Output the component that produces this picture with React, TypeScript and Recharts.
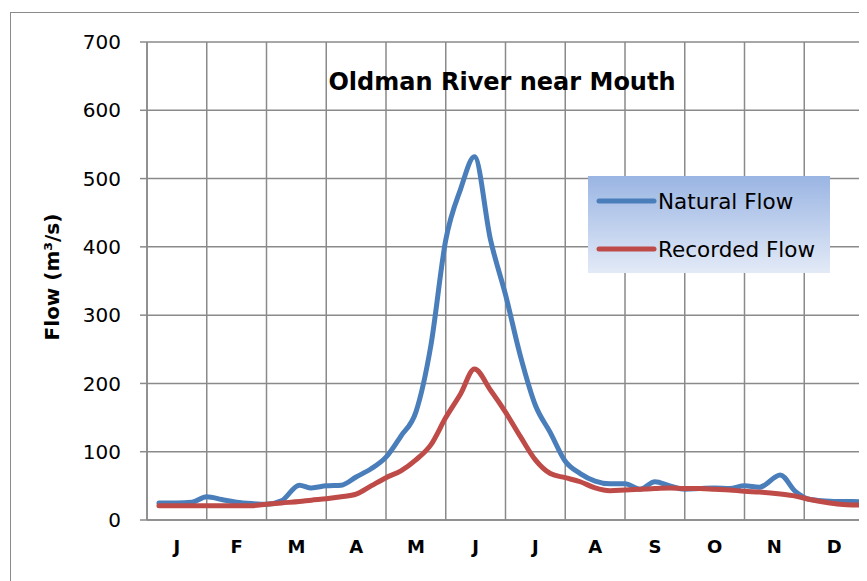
import React from 'react';
import { LineChart, Line, XAxis, YAxis, CartesianGrid, Legend } from 'recharts';

// x positions in months (0 = start of January, 12 = end of December)
const monthPos = [0.2, 0.5, 0.75, 1.0, 1.25, 1.5, 1.75, 2.0, 2.25, 2.55, 2.75, 3.0, 3.25, 3.5, 3.75, 4.0, 4.25, 4.5, 4.75, 5.0, 5.25, 5.48, 5.75, 6.0, 6.25, 6.5, 6.75, 7.0, 7.25, 7.5, 7.75, 8.0, 8.25, 8.5, 8.75, 9.0, 9.25, 9.5, 9.75, 10.0, 10.25, 10.6, 10.85, 11.1, 11.35, 11.6, 11.8, 12.0];
const naturalFlow = [25, 25, 26, 34, 30, 26, 24, 23, 28, 51, 47, 50, 51, 63, 75, 92, 123, 158, 255, 410, 485, 532, 410, 330, 240, 168, 128, 86, 68, 57, 53, 53, 45, 56, 50, 45, 46, 47, 46, 50, 48, 66, 42, 30, 28, 27, 27, 26];
const recordedFlow = [21, 21, 21, 21, 21, 21, 21, 23, 25, 27, 29, 31, 34, 38, 50, 62, 72, 88, 110, 150, 185, 221, 190, 158, 122, 88, 68, 62, 56, 47, 43, 44, 45, 46, 47, 46, 46, 45, 44, 42, 41, 38, 35, 30, 26, 23, 22, 22];
const monthLabels = ['J', 'F', 'M', 'A', 'M', 'J', 'J', 'A', 'S', 'O', 'N', 'D'];
const monthCenters = [0.5, 1.5, 2.5, 3.5, 4.5, 5.5, 6.5, 7.5, 8.5, 9.5, 10.5, 11.5];
const monthEdges = [0, 1, 2, 3, 4, 5, 6, 7, 8, 9, 10, 11, 12];
const yTicks = [0, 100, 200, 300, 400, 500, 600, 700];

const data = monthPos.map((m, i) => ({ m, natural: naturalFlow[i], recorded: recordedFlow[i] }));

const FONT = '"DejaVu Sans", sans-serif';
const BLUE = '#4a7ebb';
const RED = '#be4b48';
const GRID = '#8a8a8a';

const MonthTick = (props: any) => {
  const { x, y, payload } = props;
  const idx = monthCenters.indexOf(payload.value);
  return (
    <text x={x} y={y + 27} dy="0.35em" textAnchor="middle" fontFamily={FONT} fontWeight="bold" fontSize={18} fill="#000">
      {monthLabels[idx]}
    </text>
  );
};

const LegendBox = () => {
  const items = [
    { name: 'Natural Flow', color: BLUE },
    { name: 'Recorded Flow', color: RED },
  ];
  return (
    <div style={{ width: 242, height: 97, background: 'linear-gradient(to bottom, #9ab5e3, #e3eaf7)', fontFamily: FONT, fontSize: 21.5, color: '#000', position: 'relative' }}>
      {items.map((it, i) => (
        <div key={it.name} style={{ position: 'absolute', left: 8, top: 25 + i * 48 - 13, height: 26, display: 'flex', alignItems: 'center' }}>
          <svg width={62} height={10} style={{ display: 'block' }}>
            <line x1={3} y1={5} x2={58} y2={5} stroke={it.color} strokeWidth={5} strokeLinecap="round" />
          </svg>
          <span style={{ whiteSpace: 'nowrap' }}>{it.name}</span>
        </div>
      ))}
    </div>
  );
};

export default function App() {
  return (
    <div style={{ position: 'relative', width: 859, height: 573, overflow: 'hidden', background: '#fff' }}>
      <div style={{ position: 'absolute', left: 2, top: 4, width: 900, height: 700, border: '1.5px solid #8a8a8a', boxSizing: 'border-box' }} />
      <LineChart width={859} height={573} data={data} margin={{ top: 34, right: 3, left: 0, bottom: 0 }}>
        <XAxis xAxisId="grid" type="number" dataKey="m" domain={[0, 12]} ticks={monthEdges} height={0} hide />
        <XAxis
          xAxisId="main"
          type="number"
          dataKey="m"
          domain={[0, 12]}
          ticks={monthCenters}
          axisLine={{ stroke: GRID, strokeWidth: 1.5 }}
          tickLine={false}
          tickSize={0}
          tickMargin={0}
          tick={<MonthTick />}
          height={61}
          interval={0}
        />
        <YAxis
          type="number"
          domain={[0, 700]}
          ticks={yTicks}
          width={139}
          tickSize={7}
          tickMargin={19}
          axisLine={{ stroke: GRID, strokeWidth: 1.5 }}
          tickLine={{ stroke: GRID, strokeWidth: 1.5 }}
          tick={{ fontFamily: FONT, fontSize: 20, fill: '#000' }}
          label={{ value: 'Flow (m³/s)', angle: -90, position: 'insideLeft', offset: 44, dy: -4, style: { fontFamily: FONT, fontWeight: 'bold', fontSize: 20, fill: '#000', textAnchor: 'middle' } }}
          interval={0}
        />
        <CartesianGrid xAxisId="grid" stroke={GRID} strokeWidth={1.5} />
        <Legend layout="vertical" align="center" verticalAlign="middle" content={<LegendBox />} wrapperStyle={{ left: 580, top: 168, width: 242, height: 97 }} />
        <Line xAxisId="main" type="monotone" dataKey="natural" name="Natural Flow" stroke={BLUE} strokeWidth={5} dot={false} isAnimationActive={false} strokeLinejoin="round" strokeLinecap="round" />
        <Line xAxisId="main" type="monotone" dataKey="recorded" name="Recorded Flow" stroke={RED} strokeWidth={5} dot={false} isAnimationActive={false} strokeLinejoin="round" strokeLinecap="round" />
      </LineChart>
      <div style={{ position: 'absolute', left: 294, top: 60, width: 400, textAlign: 'center', fontFamily: FONT, fontWeight: 'bold', fontSize: 24, color: '#000', whiteSpace: 'nowrap' }}>
        Oldman River near Mouth
      </div>
    </div>
  );
}
